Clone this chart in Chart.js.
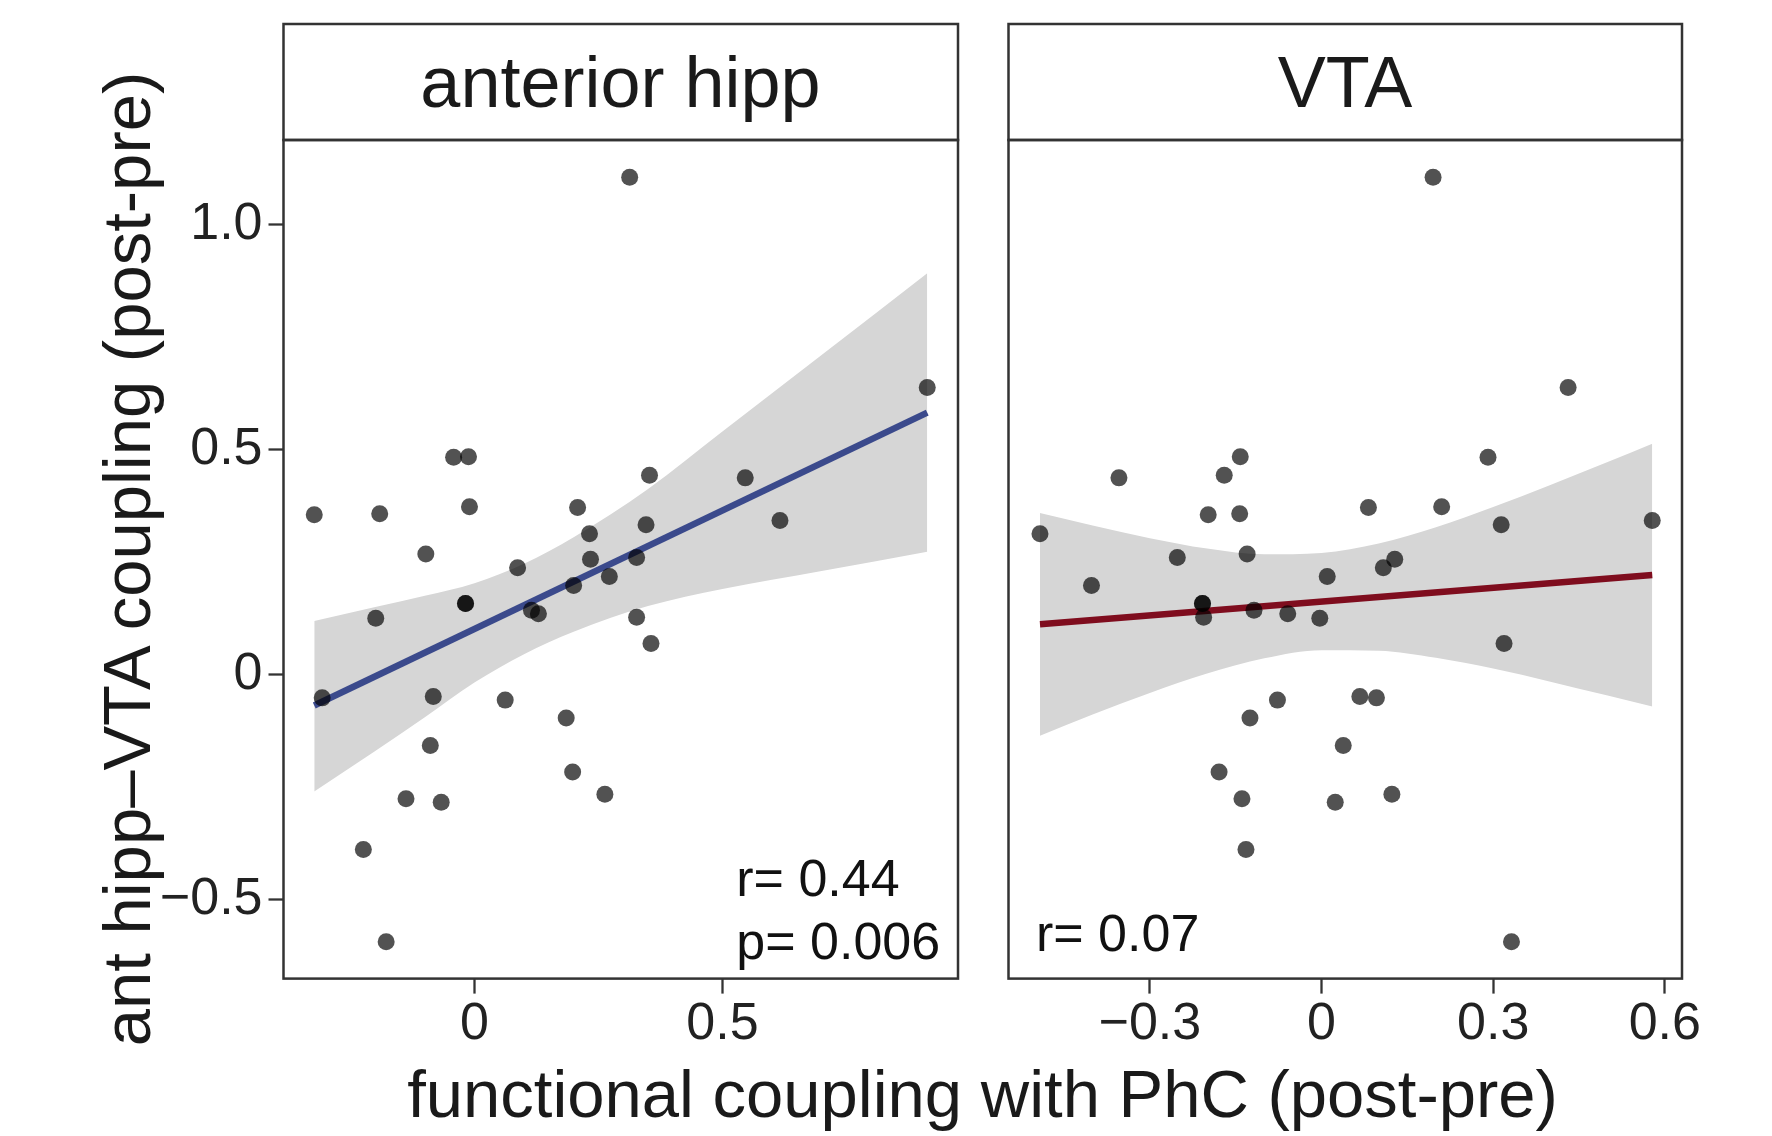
<!DOCTYPE html>
<html>
<head>
<meta charset="utf-8">
<title>ant hipp–VTA coupling</title>
<script src="https://cdn.jsdelivr.net/npm/chart.js@4.4.1/dist/chart.umd.min.js"></script>
<style>
    body { margin: 0; background: #ffffff; }
    #wrap {
        position: relative; width: 1772px; height: 1136px; overflow: hidden;
        font-family: "Liberation Sans", Arial, Helvetica, sans-serif; color: #1a1a1a;
    }
    canvas { position: absolute; top: 0; }
    .strip {
        position: absolute; top: 24px; height: 116px; line-height: 116px;
        text-align: center; font-size: 72px; white-space: nowrap;
    }
    .xtitle {
        position: absolute; left: 281px; width: 1403px; top: 1054px;
        height: 80px; line-height: 80px; text-align: center; font-size: 67px; white-space: nowrap;
    }
    .ytitle {
        position: absolute; left: -473px; top: 519px; width: 1200px;
        height: 80px; line-height: 80px; text-align: center; font-size: 67px; white-space: nowrap;
        transform: rotate(-90deg); transform-origin: 50% 50%;
    }
</style>
</head>
<body>
<div id="wrap">
    <canvas id="chartHipp" width="970" height="1136" style="left:0px"></canvas>
    <canvas id="chartVta" width="802" height="1136" style="left:970px"></canvas>
    <div class="strip" style="left:283px; width:675px">anterior hipp</div>
    <div class="strip" style="left:1008px; width:674px">VTA</div>
    <div class="xtitle">functional coupling with PhC (post-pre)</div>
    <div class="ytitle">ant hipp–VTA coupling (post-pre)</div>
</div>

<script>
// Trục tung chung cho cả hai panel (ant hipp–VTA coupling)
var couplingY = [1.105, 0.638, 0.483, 0.484, 0.443, 0.437, 0.373, 0.371, 0.357, 0.355,
    0.342, 0.333, 0.313, 0.268, 0.260, 0.256, 0.237, 0.218, 0.198, 0.158,
    0.158, 0.143, 0.135, 0.127, 0.125, 0.069, -0.049, -0.052, -0.057, -0.097,
    -0.158, -0.217, -0.266, -0.276, -0.284, -0.389, -0.594];

// Trục hoành: coupling with PhC, panel "anterior hipp"
var hippX = [0.313, 0.913, -0.042, -0.012, 0.353, 0.546, -0.010, 0.208, -0.191, -0.323,
    0.616, 0.346, 0.232, -0.098, 0.327, 0.234, 0.087, 0.272, 0.200, -0.018,
    -0.018, 0.115, 0.129, 0.327, -0.199, 0.356, -0.083, -0.307, 0.062, 0.185,
    -0.089, 0.198, 0.263, -0.138, -0.067, -0.224, -0.178];

// Trục hoành: panel "VTA"
var vtaX = [0.195, 0.431, 0.291, -0.142, -0.170, -0.354, 0.210, 0.082, -0.143, -0.198,
    0.578, 0.314, -0.492, -0.130, -0.252, 0.128, 0.108, 0.010, -0.402, -0.208,
    -0.208, -0.118, -0.059, -0.206, -0.003, 0.319, 0.067, 0.096, -0.077, -0.125,
    0.038, -0.179, 0.123, -0.139, 0.024, -0.132, 0.332];

// Đường hồi quy (hai đầu mút) và dải tin cậy
var fitHippX = [-0.323, 0.913];
var fitHippY = [-0.069, 0.582];
var bandHippX = [-0.323, -0.2, -0.1, 0.0, 0.1, 0.2, 0.35, 0.5, 0.7, 0.913];
var bandHippHi = [0.119, 0.150, 0.175, 0.203, 0.246, 0.305, 0.412, 0.540, 0.710, 0.892];
var bandHippLo = [-0.260, -0.170, -0.095, -0.018, 0.045, 0.095, 0.152, 0.190, 0.230, 0.273];

var fitVtaX = [-0.492, 0.578];
var fitVtaY = [0.1115, 0.221];
var bandVtaX = [-0.492, -0.4, -0.3, -0.2, -0.1, 0.0, 0.1, 0.2, 0.3, 0.4, 0.5, 0.578];
var bandVtaHi = [0.359, 0.331, 0.303, 0.280, 0.267, 0.270, 0.291, 0.327, 0.372, 0.421, 0.472, 0.513];
var bandVtaLo = [-0.136, -0.089, -0.041, 0.002, 0.036, 0.054, 0.053, 0.037, 0.013, -0.016, -0.047, -0.071];

// Nhãn trục
var yTicks = [-0.5, 0, 0.5, 1.0];
var yTickLabels = ['\u22120.5', '0', '0.5', '1.0'];
var xTicksHipp = [0, 0.5];
var xTickLabelsHipp = ['0', '0.5'];
var xTicksVta = [-0.3, 0, 0.3, 0.6];
var xTickLabelsVta = ['\u22120.3', '0', '0.3', '0.6'];

var FONT = '"Liberation Sans", Arial, Helvetica, sans-serif';

function toPoints(xs, ys) {
    return xs.map(function (x, i) {
        return { x: x, y: ys[i] };
    });
}

// Khung panel, khung strip và chữ r= / p=
function makePanelPlugin(notes) {
    return {
        id: 'panelBox',
        afterDraw: function (chart) {
            var a = chart.chartArea;
            var ctx = chart.ctx;
            ctx.save();
            ctx.strokeStyle = '#333333';
            ctx.lineWidth = 2.5;
            ctx.strokeRect(a.left, a.top, a.right - a.left, a.bottom - a.top);
            ctx.strokeRect(a.left, 24, a.right - a.left, a.top - 24);
            ctx.fillStyle = '#111111';
            ctx.font = '52px ' + FONT;
            ctx.textAlign = 'left';
            ctx.textBaseline = 'alphabetic';
            notes.forEach(function (n) {
                ctx.fillText(n.text, chart.scales.x.getPixelForValue(n.x), chart.scales.y.getPixelForValue(n.y));
            });
            ctx.restore();
        }
    };
}

function tickGrid() {
    return {
        display: true,
        drawOnChartArea: false,
        drawTicks: true,
        tickLength: 15,
        tickColor: '#333333',
        tickWidth: 2.3
    };
}

function makePanel(canvasId, opts) {
    var ctx = document.getElementById(canvasId).getContext('2d');
    return new Chart(ctx, {
        type: 'scatter',
        data: {
            datasets: [{
                data: toPoints(opts.xs, couplingY),
                pointRadius: 8.5,
                pointHoverRadius: 8.5,
                backgroundColor: 'rgba(0,0,0,0.68)',
                borderWidth: 0,
                order: 0
            }, {
                data: toPoints(opts.fitX, opts.fitY),
                showLine: true,
                borderColor: opts.lineColor,
                borderWidth: 6.5,
                pointRadius: 0,
                fill: false,
                order: 1
            }, {
                data: toPoints(opts.bandX, opts.bandHi),
                showLine: true,
                borderWidth: 0,
                borderColor: 'rgba(0,0,0,0)',
                backgroundColor: '#d6d6d6',
                pointRadius: 0,
                cubicInterpolationMode: 'monotone',
                fill: '+1',
                order: 2
            }, {
                data: toPoints(opts.bandX, opts.bandLo),
                showLine: true,
                borderWidth: 0,
                borderColor: 'rgba(0,0,0,0)',
                pointRadius: 0,
                cubicInterpolationMode: 'monotone',
                fill: false,
                order: 3
            }]
        },
        options: {
            responsive: false,
            animation: false,
            devicePixelRatio: 1,
            events: [],
            layout: { padding: opts.padding },
            scales: {
                x: {
                    type: 'linear',
                    min: opts.xMin,
                    max: opts.xMax,
                    grid: tickGrid(),
                    border: { display: false },
                    afterBuildTicks: function (scale) {
                        scale.ticks = opts.xTicks.map(function (v) { return { value: v }; });
                    },
                    afterFit: function (scale) {
                        scale.height = 157.4;
                    },
                    ticks: {
                        padding: 0,
                        maxRotation: 0,
                        color: '#222222',
                        font: { family: FONT, size: 52 },
                        callback: function (value, index) {
                            return opts.xLabels[index];
                        }
                    }
                },
                y: {
                    type: 'linear',
                    display: opts.showY,
                    min: -0.676,
                    max: 1.188,
                    grid: tickGrid(),
                    border: { display: false },
                    afterBuildTicks: function (scale) {
                        scale.ticks = yTicks.map(function (v) { return { value: v }; });
                    },
                    afterFit: function (scale) {
                        if (opts.showY) scale.width = 283.5;
                    },
                    ticks: {
                        padding: 6,
                        color: '#222222',
                        font: { family: FONT, size: 52 },
                        callback: function (value, index) {
                            return yTickLabels[index];
                        }
                    }
                }
            },
            plugins: {
                legend: { display: false },
                tooltip: { enabled: false }
            }
        },
        plugins: [makePanelPlugin(opts.notes)]
    });
}

makePanel('chartHipp', {
    xs: hippX,
    fitX: fitHippX, fitY: fitHippY,
    bandX: bandHippX, bandHi: bandHippHi, bandLo: bandHippLo,
    lineColor: '#3b4a8c',
    xMin: -0.385, xMax: 0.975,
    xTicks: xTicksHipp, xLabels: xTickLabelsHipp,
    showY: true,
    padding: { top: 140, right: 12, left: 0, bottom: 0 },
    notes: [
        { text: 'r= 0.44', x: 0.528, y: -0.492 },
        { text: 'p= 0.006', x: 0.528, y: -0.632 }
    ]
});

makePanel('chartVta', {
    xs: vtaX,
    fitX: fitVtaX, fitY: fitVtaY,
    bandX: bandVtaX, bandHi: bandVtaHi, bandLo: bandVtaLo,
    lineColor: '#7f0d1e',
    xMin: -0.547, xMax: 0.630,
    xTicks: xTicksVta, xLabels: xTickLabelsVta,
    showY: false,
    padding: { top: 140, right: 90, left: 38.5, bottom: 0 },
    notes: [
        { text: 'r= 0.07', x: -0.499, y: -0.614 }
    ]
});
</script>
</body>
</html>
